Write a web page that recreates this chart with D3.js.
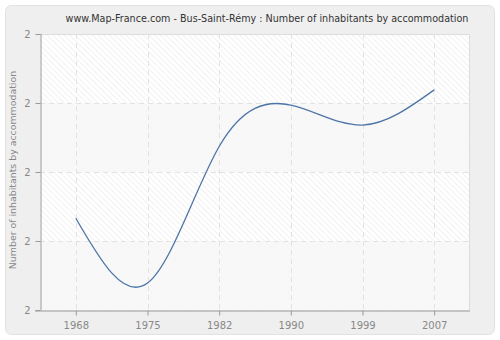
<!DOCTYPE html>
<html>
<head>
<meta charset="utf-8">
<script src="https://cdn.jsdelivr.net/npm/d3@7"></script>
<style>
  html, body { margin: 0; padding: 0; background: #ffffff; }
  svg { display: block; font-family: "DejaVu Sans", Verdana, sans-serif; }
</style>
</head>
<body>
<svg id="chart" width="500" height="340"></svg>
<script>
// Census years and average number of inhabitants per dwelling
const years = ["1968", "1975", "1982", "1990", "1999", "2007"];
const inhabitantsPerDwelling = [1.933, 1.839, 2.037, 2.097, 2.068, 2.119];
const yTicks = [1.8, 1.9, 2.0, 2.1, 2.2];

const title = "www.Map-France.com - Bus-Saint-Rémy : Number of inhabitants by accommodation";
const yTitle = "Number of inhabitants by accommodation";

const svg = d3.select("#chart");
const W = 500, H = 340;
const plot = { left: 40, right: 470, top: 34, bottom: 310 };

// card background
svg.append("rect")
  .attr("x", 5.5).attr("y", 5.5)
  .attr("width", W - 11).attr("height", H - 11)
  .attr("rx", 6).attr("ry", 6)
  .attr("fill", "#efefef")
  .attr("stroke", "#e2e2e2");

// hatch pattern for the plotting area
const defs = svg.append("defs");
const pat = defs.append("pattern")
  .attr("id", "hatch")
  .attr("patternUnits", "userSpaceOnUse")
  .attr("width", 4).attr("height", 4)
  .attr("patternTransform", "rotate(-45)");
pat.append("rect").attr("width", 4).attr("height", 4).attr("fill", "#ffffff");
pat.append("line")
  .attr("x1", 0).attr("y1", 0).attr("x2", 0).attr("y2", 4)
  .attr("stroke", "#e6e6e6").attr("stroke-width", 1.1);

const x = d3.scalePoint()
  .domain(years)
  .range([plot.left, plot.right])
  .padding(0.5);

const y = d3.scaleLinear()
  .domain([yTicks[0], yTicks[yTicks.length - 1]])
  .range([plot.bottom, plot.top]);

svg.append("rect")
  .attr("x", plot.left).attr("y", plot.top)
  .attr("width", plot.right - plot.left)
  .attr("height", plot.bottom - plot.top)
  .attr("fill", "url(#hatch)");

// alternating lighter bands
for (let i = 0; i < yTicks.length - 1; i += 2) {
  svg.append("rect")
    .attr("x", plot.left)
    .attr("y", y(yTicks[i + 1]))
    .attr("width", plot.right - plot.left)
    .attr("height", y(yTicks[i]) - y(yTicks[i + 1]))
    .attr("fill", "#f7f7f7")
    .attr("fill-opacity", 0.85);
}

// plot frame (top and right)
svg.append("path")
  .attr("d", `M${plot.left},${plot.top + 0.5}H${plot.right - 0.5}V${plot.bottom}`)
  .attr("fill", "none")
  .attr("stroke", "#dddddd");

// dashed grid
const grid = svg.append("g")
  .attr("stroke", "#e2e2e2")
  .attr("stroke-dasharray", "5,4")
  .attr("stroke-width", 1);
years.forEach(d => {
  grid.append("line")
    .attr("x1", Math.round(x(d)) + 0.5).attr("x2", Math.round(x(d)) + 0.5)
    .attr("y1", plot.top).attr("y2", plot.bottom);
});
yTicks.slice(1, -1).forEach(v => {
  grid.append("line")
    .attr("x1", plot.left).attr("x2", plot.right)
    .attr("y1", Math.round(y(v)) + 0.5).attr("y2", Math.round(y(v)) + 0.5);
});

// axes
const xAxis = d3.axisBottom(x).tickSize(5).tickPadding(6);
const yAxis = d3.axisLeft(y).tickValues(yTicks).tickFormat(d3.format(".0f")).tickSize(5).tickPadding(5);

const gx = svg.append("g")
  .attr("transform", `translate(0,${plot.bottom + 0.5})`)
  .call(xAxis);
const gy = svg.append("g")
  .attr("transform", `translate(${plot.left + 0.5},0)`)
  .call(yAxis);

[gx, gy].forEach(g => {
  g.select(".domain").attr("stroke", "#999999").attr("stroke-width", 1);
  g.selectAll(".tick line").attr("stroke", "#999999");
  g.selectAll(".tick text")
    .attr("fill", "#888888")
    .style("font-family", "\"DejaVu Sans\", Verdana, sans-serif")
    .style("font-size", "10px");
});
gx.select(".domain").attr("d", `M${plot.left - 5},0.5H${plot.right}`);
gy.select(".domain").attr("d", `M0.5,${plot.top}V${plot.bottom}`);

// data line
const line = d3.line()
  .x((d, i) => x(years[i]))
  .y(d => y(d))
  .curve(d3.curveNatural);

svg.append("path")
  .datum(inhabitantsPerDwelling)
  .attr("d", line)
  .attr("fill", "none")
  .attr("stroke", "#4d74a8")
  .attr("stroke-width", 1.3);

// titles
svg.append("text")
  .attr("x", 267).attr("y", 22)
  .attr("text-anchor", "middle")
  .attr("fill", "#333333")
  .style("font-size", "9.6px")
  .text(title);

svg.append("text")
  .attr("transform", "translate(16,170) rotate(-90)")
  .attr("text-anchor", "middle")
  .attr("fill", "#888888")
  .style("font-size", "9.4px")
  .text(yTitle);
</script>
</body>
</html>
